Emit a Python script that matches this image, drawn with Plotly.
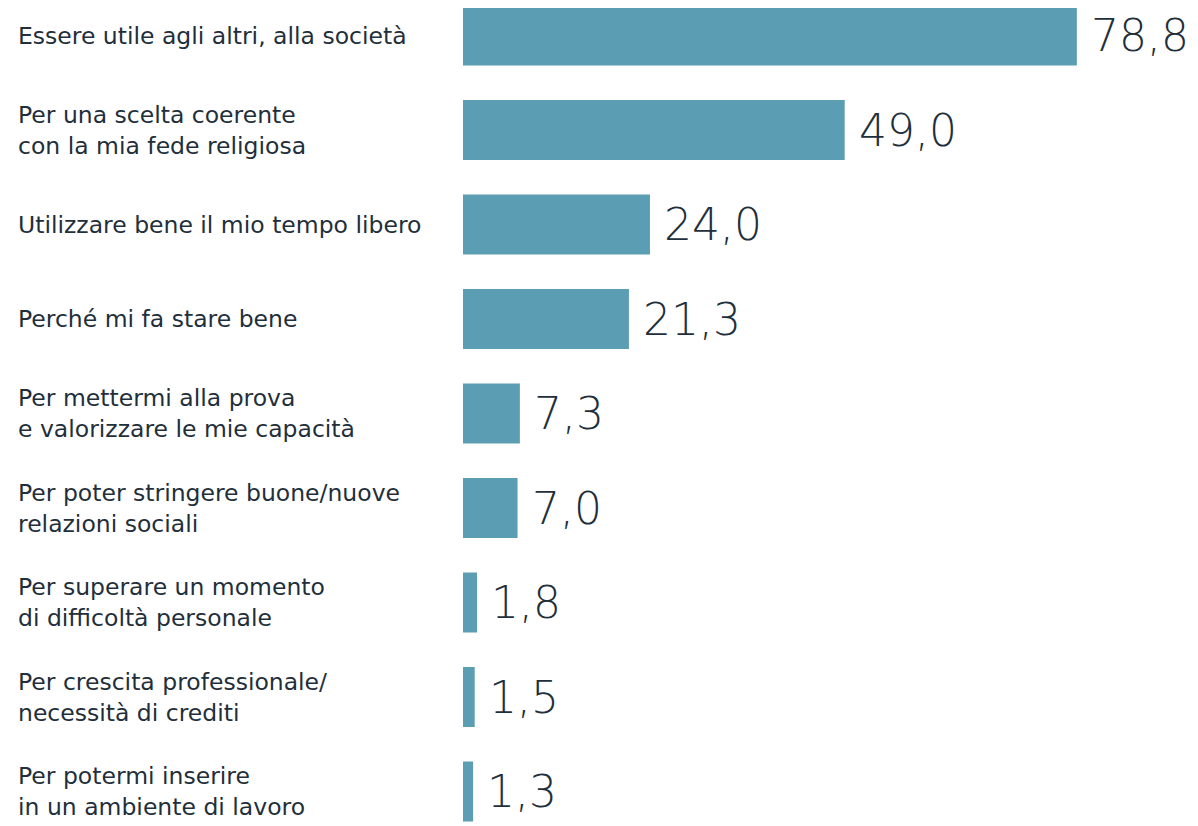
import plotly.graph_objects as go

categories = [
    "Essere utile agli altri, alla società",
    "Per una scelta coerente<br>con la mia fede religiosa",
    "Utilizzare bene il mio tempo libero",
    "Perché mi fa stare bene",
    "Per mettermi alla prova<br>e valorizzare le mie capacità",
    "Per poter stringere buone/nuove<br>relazioni sociali",
    "Per superare un momento<br>di difficoltà personale",
    "Per crescita professionale/<br>necessità di crediti",
    "Per potermi inserire<br>in un ambiente di lavoro",
]
values = [78.8, 49.0, 24.0, 21.3, 7.3, 7.0, 1.8, 1.5, 1.3]
value_labels = ["78,8", "49,0", "24,0", "21,3", "7,3", "7,0", "1,8", "1,5", "1,3"]

W, H = 1198, 826
OFF = 8          # page body margin
L = 463 - OFF
plot_w = W - L
px_per_unit = 7.79
xmax = plot_w / px_per_unit
pitch = 94.5
c0 = 35.5 - OFF

ypos = list(range(len(categories)))

fig = go.Figure(go.Bar(
    x=values, y=ypos, orientation="h",
    marker=dict(color="#5b9db2", line=dict(width=0)),
    width=0.635, hoverinfo="skip",
))

ann = []
for i, (c, v, t) in enumerate(zip(categories, values, value_labels)):
    ann.append(dict(
        x=(16 - OFF - L) / plot_w, xref="paper", y=i, yref="y",
        text=c, showarrow=False, xanchor="left", yanchor="middle", align="left",
        font=dict(family="DejaVu Sans", size=23.5, color="#1f2f3b"),
    ))
    ann.append(dict(
        x=v, xref="x", y=i, yref="y", text=t, showarrow=False,
        xanchor="left", yanchor="middle", xshift=12,
        font=dict(family="DejaVu Sans", size=44, color="#1f2f3b", weight=300),
    ))

fig.update_layout(
    width=W, height=H,
    margin=dict(l=L, r=0, t=0, b=0),
    paper_bgcolor="white", plot_bgcolor="white",
    showlegend=False,
    xaxis=dict(range=[0, xmax], visible=False, fixedrange=True),
    yaxis=dict(range=[(H - c0) / pitch, -c0 / pitch], visible=False, fixedrange=True),
    annotations=ann,
)

fig.write_html("out.html")
